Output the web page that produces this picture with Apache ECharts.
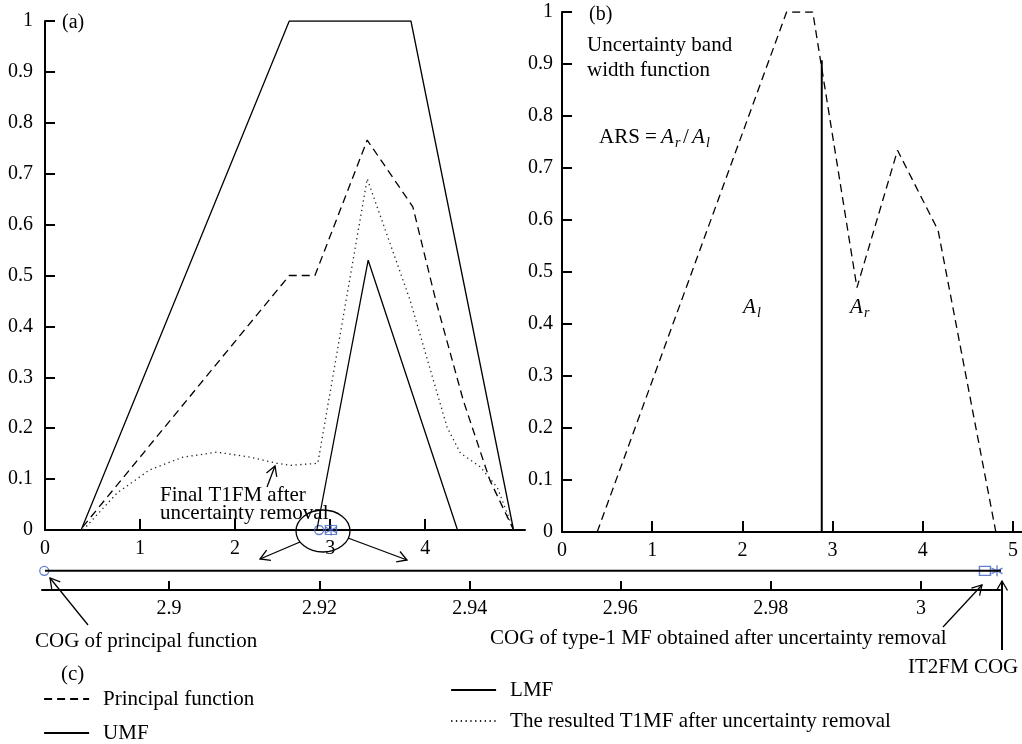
<!DOCTYPE html>
<html>
<head>
<meta charset="utf-8">
<title>IT2FM COG</title>
<script src="https://cdn.jsdelivr.net/npm/echarts@6/dist/echarts.min.js"></script>
<style>
html, body { margin: 0; padding: 0; background: #fff; }
#main { width: 1022px; height: 744px; }
</style>
</head>
<body>
<div id="main"></div>
<script>
// (a) membership functions
var principalX = [0, 0.37, 2.57, 2.84, 3.39, 3.87, 4.11, 4.40, 4.68, 4.93];
var principalY = [0, 0, 0.5, 0.5, 0.766, 0.635, 0.452, 0.255, 0.098, 0];
var umfX = [0.38, 2.57, 3.85, 4.93];
var umfY = [0, 1, 1, 0];
var lmfX = [2.86, 3.40, 4.34];
var lmfY = [0, 0.53, 0];
var t1mfX = [0.40, 0.76, 1.10, 1.45, 1.81, 2.16, 2.44, 2.58, 2.87, 3.39, 3.84, 4.23, 4.37, 4.58, 4.76, 4.93];
var t1mfY = [0, 0.073, 0.118, 0.143, 0.153, 0.143, 0.131, 0.127, 0.131, 0.69, 0.452, 0.202, 0.151, 0.124, 0.083, 0];

// (b) uncertainty band width function
var bandX = [0.39, 2.49, 2.78, 3.27, 3.72, 4.17, 4.81];
var bandY = [0, 1, 1, 0.47, 0.734, 0.58, 0];
var splitX = [2.88, 2.88];
var splitY = [0, 0.907];

// (c) centres of gravity: principal, type-1 after removal, IT2FM
var cogX = [2.8834, 3.0085, 3.0101];
var cogLineX = [2.8835, 3.0114];

var ticksA = [0, 1, 2, 3, 4];
var ticksB = [0, 1, 2, 3, 4, 5];
var ticksC = [2.9, 2.92, 2.94, 2.96, 2.98, 3];

var FONT = '"Liberation Serif", "DejaVu Serif", serif';
var BLUE = '#3f5fc6';

function zip(xs, ys) {
	return xs.map(function (x, i) { return [x, ys[i]]; });
}

function xAxisCfg(grid, min, max, ticks, tickLen) {
	return {
		type: 'value', gridIndex: grid, min: min, max: max,
		axisLine: { show: true, onZero: false, lineStyle: { color: '#000', width: 2 } },
		axisTick: { show: true, inside: true, length: tickLen, customValues: ticks, lineStyle: { color: '#000', width: 2 } },
		axisLabel: { customValues: ticks, color: '#000', fontFamily: FONT, fontSize: 20, margin: 9 },
		splitLine: { show: false }
	};
}

function yAxisCfg(grid, margin) {
	return {
		type: 'value', gridIndex: grid, min: 0, max: 1, interval: 0.1,
		axisLine: { show: true, onZero: false, lineStyle: { color: '#000', width: 2 } },
		axisTick: { show: true, inside: true, length: 10, lineStyle: { color: '#000', width: 2 } },
		axisLabel: { color: '#000', fontFamily: FONT, fontSize: 20, margin: margin },
		splitLine: { show: false }
	};
}

var solid = { color: '#000', width: 1.3, type: 'solid' };
var dashed = { color: '#000', width: 1.3, type: [8, 5] };
var dotted = { color: '#222', width: 1.3, type: [1.3, 3.5] };
var noMark = { color: 'transparent', borderColor: 'transparent' };

var asterisk = 'path://M0,-6L0,6M-5.2,-3L5.2,3M-5.2,3L5.2,-3';
var cogSymbols = ['circle', 'rect', asterisk];
var cogSizes = [9, [11, 9], 11];

function cogData(y) {
	return cogX.map(function (x, i) {
		return { value: [x, y], symbol: cogSymbols[i], symbolSize: cogSizes[i] };
	});
}

function arrow(x1, y1, x2, y2, lw) {
	var a = Math.atan2(y2 - y1, x2 - x1), L = 11, w = Math.PI / 6;
	lw = lw || 1.3;
	return {
		type: 'group', children: [
			{ type: 'line', shape: { x1: x1, y1: y1, x2: x2, y2: y2 }, style: { stroke: '#000', lineWidth: lw } },
			{ type: 'polyline', shape: { points: [
				[x2 - L * Math.cos(a - w), y2 - L * Math.sin(a - w)], [x2, y2],
				[x2 - L * Math.cos(a + w), y2 - L * Math.sin(a + w)]] },
			  style: { stroke: '#000', fill: 'none', lineWidth: 1.3 } }
		]
	};
}

function txt(s, x, y, size, italic) {
	return {
		type: 'text', x: x, y: y,
		style: { text: s, font: (italic ? 'italic ' : '') + size + 'px ' + FONT, fill: '#000', verticalAlign: 'middle' }
	};
}

function legendCfg(name, left, cy) {
	return {
		data: [name], left: left, top: cy - 12, padding: 0,
		itemWidth: 45, itemHeight: 14, selectedMode: false,
		itemStyle: noMark,
		lineStyle: { width: 2.2 },
		textStyle: { fontFamily: FONT, fontSize: 21, color: '#000', lineHeight: 24, padding: [0, 0, 0, 9] }
	};
}

var myChart = echarts.init(document.getElementById('main'));
var option = {
	animation: false,
	backgroundColor: '#fff',
	grid: [
		{ left: 45, top: 21, width: 480, height: 509 },
		{ left: 562, top: 12, width: 460, height: 520 },
		{ left: 42, top: 566, width: 958, height: 24 }
	],
	xAxis: [
		xAxisCfg(0, 0, 5.05, ticksA, 11),
		xAxisCfg(1, 0, 5.1, ticksB, 11),
		xAxisCfg(2, 2.8831, 3.0105, ticksC, 9)
	],
	yAxis: [
		yAxisCfg(0, 12),
		yAxisCfg(1, 9),
		{ type: 'value', gridIndex: 2, min: 0, max: 1, show: false }
	],
	legend: [
		legendCfg('Principal function', 43, 699),
		legendCfg('UMF', 43, 733),
		legendCfg('LMF', 450, 690),
		legendCfg('The resulted T1MF after uncertainty removal', 450, 721)
	],
	series: [
		{ name: 'UMF', type: 'line', xAxisIndex: 0, yAxisIndex: 0, data: zip(umfX, umfY), symbol: 'none', itemStyle: noMark, lineStyle: solid },
		{ name: 'Principal function', type: 'line', xAxisIndex: 0, yAxisIndex: 0, data: zip(principalX, principalY), symbol: 'none', itemStyle: noMark, lineStyle: dashed },
		{ name: 'LMF', type: 'line', xAxisIndex: 0, yAxisIndex: 0, data: zip(lmfX, lmfY), symbol: 'none', itemStyle: noMark, lineStyle: solid },
		{ name: 'The resulted T1MF after uncertainty removal', type: 'line', xAxisIndex: 0, yAxisIndex: 0, data: zip(t1mfX, t1mfY), symbol: 'none', itemStyle: noMark, lineStyle: dotted },
		{ name: 'COG a', type: 'scatter', xAxisIndex: 0, yAxisIndex: 0, data: cogData(0), clip: false,
		  itemStyle: { color: 'none', borderColor: BLUE, borderWidth: 1.3 } },
		{ name: 'Band width', type: 'line', xAxisIndex: 1, yAxisIndex: 1, data: zip(bandX, bandY), symbol: 'none', lineStyle: dashed },
		{ name: 'Split', type: 'line', xAxisIndex: 1, yAxisIndex: 1, data: zip(splitX, splitY), symbol: 'none', lineStyle: { color: '#000', width: 2 } },
		{ name: 'COG line', type: 'line', xAxisIndex: 2, yAxisIndex: 2, data: zip(cogLineX, [0.8, 0.8]), symbol: 'none', clip: false, lineStyle: { color: '#000', width: 2 } },
		{ name: 'COG c', type: 'scatter', xAxisIndex: 2, yAxisIndex: 2, data: cogData(0.8), clip: false,
		  itemStyle: { color: 'none', borderColor: BLUE, borderWidth: 1.3 } }
	],
	graphic: [
		txt('(a)', 62, 23, 20),
		txt('(b)', 589, 15, 20),
		txt('Uncertainty band', 587, 45, 21),
		txt('width function', 587, 70, 21),
		txt('ARS = ', 599, 137, 21),
		txt('A', 661, 137, 21, true),
		txt('r', 675, 143, 14, true),
		txt('/', 683, 137, 21),
		txt('A', 692, 137, 21, true),
		txt('l', 706, 143, 14, true),
		txt('A', 743, 307, 21, true),
		txt('l', 757, 313, 14, true),
		txt('A', 850, 307, 21, true),
		txt('r', 864, 313, 14, true),
		txt('Final T1FM after', 160, 495, 21),
		txt('uncertainty removal', 160, 513, 21),
		arrow(267, 487, 275, 466),
		{ type: 'ellipse', shape: { cx: 323, cy: 531, rx: 27, ry: 21 }, style: { fill: 'none', stroke: '#000', lineWidth: 1.3 } },
		arrow(300, 542, 260, 559),
		arrow(348, 538, 407, 560),
		arrow(88, 625, 50, 578),
		arrow(943, 627, 982, 585),
		arrow(1002, 650, 1002, 581, 2),
		txt('COG of principal function', 35, 641, 21),
		txt('COG of type-1 MF obtained after uncertainty removal', 490, 638, 21),
		txt('IT2FM COG', 908, 667, 21),
		txt('(c)', 61, 674, 21)
	]
};
myChart.setOption(option);
</script>
</body>
</html>
